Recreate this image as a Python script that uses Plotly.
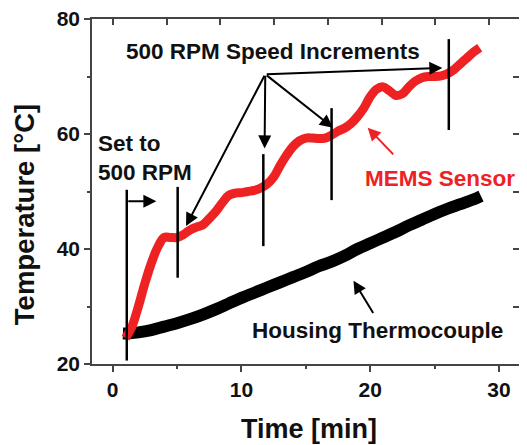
import plotly.graph_objects as go

# ---- data ----
mems_t = [1.0, 1.5, 2.0, 2.5, 3.0, 3.5, 4.0, 4.5, 5.0, 5.5, 6.0, 6.5, 7.0, 7.5, 8.0, 8.5,
          9.0, 9.5, 10.0, 10.5, 11.0, 11.5, 12.0, 12.5, 13.0, 13.5, 14.0, 14.5, 15.0,
          15.5, 16.0, 16.5, 17.0, 17.5, 18.0, 18.5, 19.0, 19.5, 20.0, 20.5, 21.0, 21.5,
          22.0, 22.5, 23.0, 23.5, 24.0, 24.5, 25.0, 25.5, 26.0, 26.5, 27.0, 27.5, 28.0, 28.5]
mems_temp = [24.5, 26.5, 30.0, 34.0, 37.5, 40.3, 42.0, 42.0, 42.0, 42.5, 43.3, 43.8, 44.2,
             45.3, 46.5, 48.0, 49.3, 49.7, 49.8, 50.0, 50.2, 50.6, 51.3, 52.5, 54.5, 56.3,
             57.8, 58.8, 59.3, 59.3, 59.2, 59.3, 59.8, 60.5, 61.0, 61.8, 63.0, 64.5, 66.5,
             67.8, 68.2, 67.5, 66.7, 67.0, 68.2, 69.2, 69.8, 70.0, 70.0, 70.1, 70.5, 71.2,
             72.2, 73.2, 74.2, 75.0]

tc_t = [0.8, 1.0, 2.0, 3.0, 4.0, 5.0, 6.0, 7.0, 8.0, 9.0, 10.0, 11.0, 12.0, 13.0, 14.0, 15.0,
        16.0, 17.0, 18.0, 19.0, 20.0, 21.0, 22.0, 23.0, 24.0, 25.0, 26.0, 27.0, 28.0, 28.6]
tc_temp = [25.3, 25.3, 25.5, 25.9, 26.5, 27.1, 27.8, 28.6, 29.5, 30.5, 31.5, 32.4, 33.3, 34.2,
           35.1, 36.0, 37.0, 37.8, 38.8, 40.0, 41.0, 42.0, 43.0, 44.1, 45.1, 46.1, 47.0,
           47.8, 48.6, 49.2]

# speed-change markers: time and vertical extent
marker_t = [1.1, 5.05, 11.7, 17.0, 26.1]
marker_lo = [20.6, 35.0, 40.5, 48.5, 60.7]
marker_hi = [50.3, 50.8, 56.5, 64.5, 76.5]

x_ticks = [0, 10, 20, 30]
y_ticks = [20, 40, 60, 80]
top_ticks = [0.03, 4.2, 8.37, 12.54, 16.71, 20.88, 25.05, 29.2]
right_ticks = [30, 40, 50, 60, 70]

FONT = "Liberation Sans, Arial, sans-serif"

fig = go.Figure()

fig.add_trace(go.Scatter(x=tc_t, y=tc_temp, mode="lines", line=dict(color="black", width=12, shape="spline"),
                         showlegend=False, hoverinfo="skip"))
fig.add_trace(go.Scatter(x=mems_t, y=mems_temp, mode="lines",
                         line=dict(color="#ee2222", width=9, shape="spline"),
                         showlegend=False, hoverinfo="skip"))

for t, lo, hi in zip(marker_t, marker_lo, marker_hi):
    fig.add_trace(go.Scatter(x=[t, t], y=[lo, hi], mode="lines", line=dict(color="black", width=2.5),
                             showlegend=False, hoverinfo="skip"))

# invisible trace to register the mirror axes (top / right inward ticks)
fig.add_trace(go.Scatter(x=tc_t, y=tc_temp, xaxis="x2", yaxis="y2", mode="lines", opacity=0,
                         line=dict(width=0), showlegend=False, hoverinfo="skip"))

# arrows
arrow_common = dict(showarrow=True, arrowhead=2, arrowsize=1.3, arrowwidth=2, arrowcolor="black",
                    axref="x", ayref="y", text="")
apex = (11.85, 70.4)
arrows = [
    ((3.4, 48.3), (1.1, 48.3)),
    ((5.7, 44.0), apex),
    ((11.8, 57.5), apex),
    ((17.1, 61.1), apex),
    ((25.6, 71.5), apex),
    ((18.7, 34.5), (20.3, 28.6)),
]
for (tip, tail) in arrows:
    fig.add_annotation(x=tip[0], y=tip[1], ax=tail[0], ay=tail[1], **arrow_common)
fig.add_annotation(x=19.8, y=61.1, ax=21.9, ay=56.2, showarrow=True, arrowhead=2, arrowsize=1.3,
                   arrowwidth=2, arrowcolor="#ee2222", axref="x", ayref="y", text="")

txt_font = dict(family=FONT, size=22.5, color="#111111", weight="bold")
fig.add_annotation(x=0.9, y=74.4, text="500 RPM Speed Increments", showarrow=False,
                   xanchor="left", yanchor="middle", font=txt_font)
fig.add_annotation(x=-1.3, y=55.9, text="Set to<br>500 RPM", showarrow=False, align="left",
                   xanchor="left", yanchor="middle", font=txt_font)
fig.add_annotation(x=19.45, y=52.2, text="MEMS Sensor", showarrow=False,
                   xanchor="left", yanchor="middle", font=dict(family=FONT, size=22.5, color="#ee2222", weight="bold"))
fig.add_annotation(x=10.65, y=25.8, text="Housing Thermocouple", showarrow=False,
                   xanchor="left", yanchor="middle", font=txt_font)

# axis titles (placed as paper-referenced text to match the reference offsets)
fig.add_annotation(x=0.509, y=-0.189, xref="paper", yref="paper", text="Time [min]", showarrow=False,
                   xanchor="center", yanchor="middle",
                   font=dict(family=FONT, size=27, color="#111111", weight="bold"))
fig.add_annotation(x=-0.158, y=0.433, xref="paper", yref="paper", text="Temperature [°C]", showarrow=False,
                   textangle=-90, xanchor="center", yanchor="middle",
                   font=dict(family=FONT, size=27.5, color="#111111", weight="bold"))

xr = [-1.6, 31.55]
yr = [20, 80]
axis_line = "#444444"
# the page body adds an 8px offset, so the figure is 8px smaller and margins compensate
fig.update_layout(
    width=519, height=437,
    margin=dict(l=84, r=8, t=11, b=81, autoexpand=False),
    paper_bgcolor="white", plot_bgcolor="white",
    showlegend=False,
    xaxis=dict(range=xr, tickvals=x_ticks, ticks="outside", ticklen=6, tickwidth=1.5, tickcolor=axis_line,
               showline=True, linecolor=axis_line, linewidth=1.5, mirror=True, showgrid=False, zeroline=False,
               automargin=False, ticklabeloverflow="allow",
               tickfont=dict(family=FONT, size=21, color="#111111", weight="bold"),
               minor=dict(tickvals=[5, 15, 25], ticks="outside", ticklen=3, tickwidth=1.5, tickcolor=axis_line)),
    yaxis=dict(range=yr, tickvals=y_ticks, ticks="outside", ticklen=6, tickwidth=1.5, tickcolor=axis_line,
               showline=True, linecolor=axis_line, linewidth=1.5, mirror=True, showgrid=False, zeroline=False,
               automargin=False, ticklabeloverflow="allow",
               tickfont=dict(family=FONT, size=21, color="#111111", weight="bold"),
               minor=dict(tickvals=[30, 50, 70], ticks="outside", ticklen=3, tickwidth=1.5, tickcolor=axis_line)),
    xaxis2=dict(range=xr, overlaying="x", side="top", tickvals=top_ticks, ticks="inside", ticklen=6,
                tickwidth=1.5, tickcolor=axis_line, showticklabels=False, showline=False, showgrid=False,
                zeroline=False, automargin=False),
    yaxis2=dict(range=yr, overlaying="y", side="right", tickvals=right_ticks, ticks="inside",
                ticklen=6, tickwidth=1.5, tickcolor=axis_line, showticklabels=False, showline=False,
                showgrid=False, zeroline=False, automargin=False),
)

fig.write_html("out.html")
